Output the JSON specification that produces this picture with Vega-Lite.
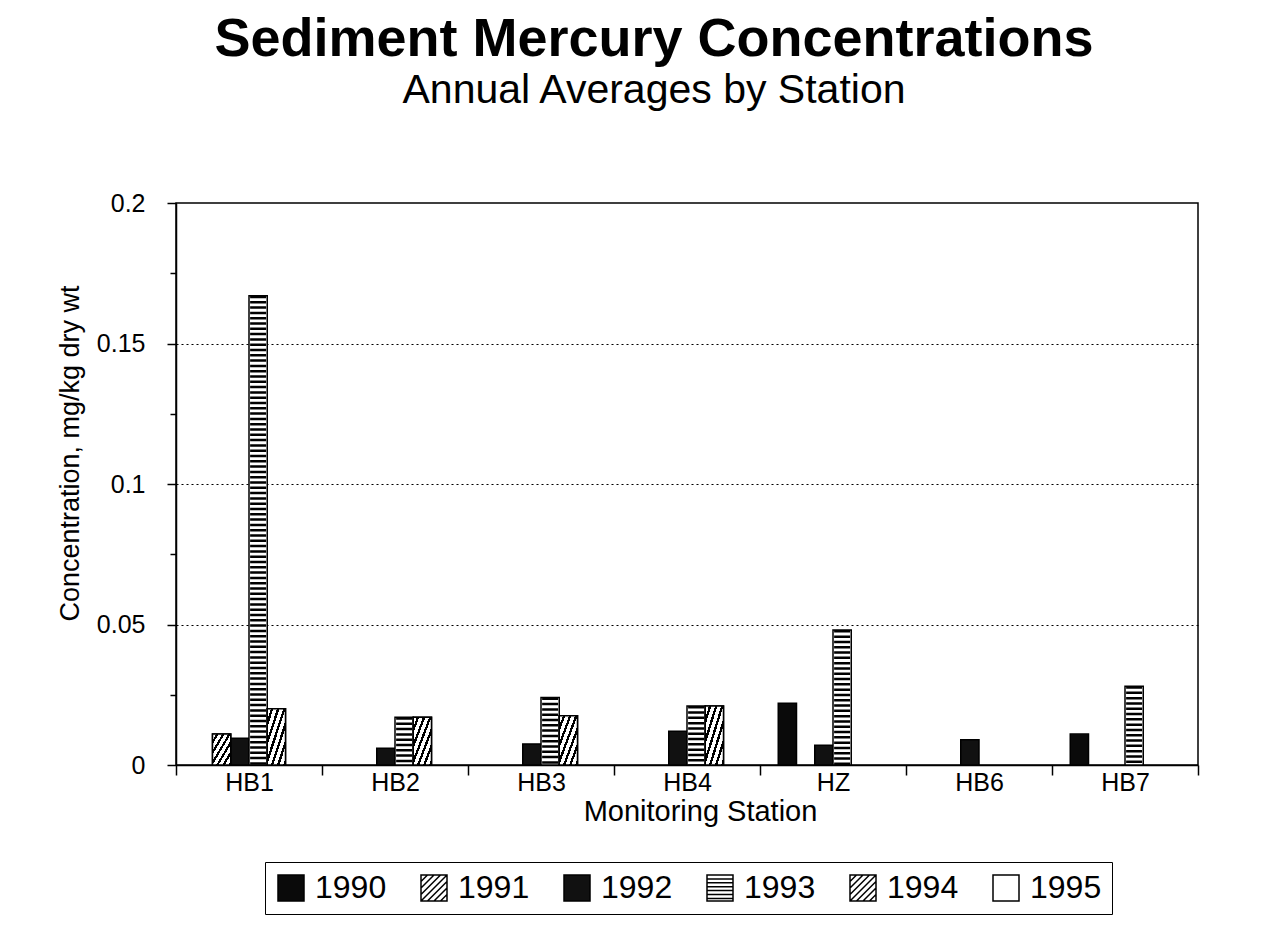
{
  "$schema": "https://vega.github.io/schema/vega-lite/v6.json",
  "autosize": {"type": "none"},
  "padding": {"left": 176, "top": 203, "right": 83, "bottom": 178},
  "width": 1022,
  "height": 562,
  "background": "white",
  "title": {
    "text": "Sediment Mercury Concentrations",
    "subtitle": "Annual Averages by Station",
    "anchor": "middle",
    "frame": "group",
    "dx": -33,
    "offset": 80,
    "font": "Liberation Sans",
    "fontSize": 54,
    "fontWeight": "bold",
    "color": "black",
    "subtitleFont": "Liberation Sans",
    "subtitleFontSize": 41,
    "subtitleColor": "black",
    "subtitlePadding": 4
  },
  "data": {
    "values": [
      {"station": "HB1", "year": "1991", "conc": 0.011},
      {"station": "HB1", "year": "1992", "conc": 0.0095},
      {"station": "HB1", "year": "1993", "conc": 0.167},
      {"station": "HB1", "year": "1994", "conc": 0.020},
      {"station": "HB2", "year": "1992", "conc": 0.006},
      {"station": "HB2", "year": "1993", "conc": 0.017},
      {"station": "HB2", "year": "1994", "conc": 0.017},
      {"station": "HB3", "year": "1992", "conc": 0.0075},
      {"station": "HB3", "year": "1993", "conc": 0.024},
      {"station": "HB3", "year": "1994", "conc": 0.0175},
      {"station": "HB4", "year": "1992", "conc": 0.012},
      {"station": "HB4", "year": "1993", "conc": 0.021},
      {"station": "HB4", "year": "1994", "conc": 0.021},
      {"station": "HZ", "year": "1990", "conc": 0.022},
      {"station": "HZ", "year": "1992", "conc": 0.007},
      {"station": "HZ", "year": "1993", "conc": 0.048},
      {"station": "HB6", "year": "1992", "conc": 0.009},
      {"station": "HB7", "year": "1990", "conc": 0.011},
      {"station": "HB7", "year": "1993", "conc": 0.028}
    ]
  },
  "encoding": {
    "x": {
      "field": "station",
      "type": "nominal",
      "scale": {"domain": ["HB1", "HB2", "HB3", "HB4", "HZ", "HB6", "HB7"], "paddingInner": 0, "paddingOuter": 0},
      "axis": {
        "title": "Monitoring Station",
        "labelAngle": 0,
        "tickBand": "extent",
        "tickSize": 10,
        "tickColor": "black",
        "tickWidth": 1.5,
        "domainColor": "black",
        "domainWidth": 1.5,
        "labelPadding": -5,
        "labelFont": "Liberation Sans",
        "labelFontSize": 25,
        "labelColor": "black",
        "titleFont": "Liberation Sans",
        "titleFontSize": 29,
        "titleFontWeight": "normal",
        "titleColor": "black",
        "titlePadding": 2,
        "titleX": 524
      }
    },
    "xOffset": {
      "field": "year",
      "type": "nominal",
      "scale": {"domain": ["1990", "1991", "1992", "1993", "1994", "1995"], "paddingInner": 0, "paddingOuter": 1}
    },
    "y": {
      "field": "conc",
      "type": "quantitative",
      "scale": {"domain": [0, 0.2], "nice": false},
      "axis": {
        "title": "Concentration, mg/kg dry wt",
        "values": [0, 0.025, 0.05, 0.075, 0.1, 0.125, 0.15, 0.175, 0.2],
        "labelExpr": "round(datum.value*1000) % 50 == 0 ? format(datum.value, '~g') : ''",
        "grid": true,
        "gridColor": "black",
        "gridDash": [2, 3],
        "gridWidth": 1.2,
        "gridOpacity": {"condition": {"test": "round(datum.value*1000) % 50 == 0 && datum.value > 0 && datum.value < 0.2", "value": 1}, "value": 0},
        "tickSize": {"condition": {"test": "round(datum.value*1000) % 50 == 0", "value": 9}, "value": 6},
        "tickColor": "black",
        "tickWidth": 1.5,
        "domainColor": "black",
        "domainWidth": 1.5,
        "labelPadding": 22,
        "labelFont": "Liberation Sans",
        "labelFontSize": 25,
        "labelColor": "black",
        "titleFont": "Liberation Sans",
        "titleFontSize": 27,
        "titleFontWeight": "normal",
        "titleColor": "black",
        "titlePadding": 12,
        "titleY": 250
      }
    }
  },
  "layer": [
    {
      "mark": {"type": "bar", "stroke": "black", "strokeWidth": 1.5, "fillOpacity": 1},
      "encoding": {
        "color": {
          "field": "year",
          "type": "nominal",
          "scale": {
            "domain": ["1990", "1991", "1992", "1993", "1994", "1995"],
            "range": ["#0a0a0a", "#ffffff", "#111111", "#ffffff", "#ffffff", "#ffffff"]
          },
          "legend": {
            "title": null,
            "orient": "none",
            "direction": "horizontal",
            "legendX": 89,
            "legendY": 659,
            "columns": 6,
            "symbolSize": 676,
            "labelFont": "Liberation Sans",
            "labelFontSize": 32,
            "labelColor": "black",
            "labelOffset": 8,
            "columnPadding": 31,
            "padding": 10,
            "strokeColor": "black",
            "encode": {
              "symbols": {
                "update": {
                  "stroke": {"value": "black"},
                  "strokeWidth": {"value": 1.5},
                  "opacity": {"value": 1}
                }
              }
            }
          }
        }
      }
    },
    {
      "mark": {"type": "point", "filled": true, "opacity": 0},
      "encoding": {
        "color": {"field": "year", "type": "nominal"},
        "shape": {
          "field": "year",
          "type": "nominal",
          "scale": {
            "domain": ["1990", "1991", "1992", "1993", "1994", "1995"],
            "range": [
              "M-1,-1H1V1H-1Z",
              "M-1,-1H1V1H-1Z M-1,-0.5L-0.5,-1 M-1,0L0,-1 M-1,0.5L0.5,-1 M-1,1L1,-1 M-0.5,1L1,-0.5 M0,1L1,0 M0.5,1L1,0.5",
              "M-1,-1H1V1H-1Z",
              "M-1,-1H1V1H-1Z M-1,-0.7H1 M-1,-0.4H1 M-1,-0.1H1 M-1,0.2H1 M-1,0.5H1 M-1,0.8H1",
              "M-1,-1H1V1H-1Z M-1,-0.5L-0.5,-1 M-1,0L0,-1 M-1,0.5L0.5,-1 M-1,1L1,-1 M-0.5,1L1,-0.5 M0,1L1,0 M0.5,1L1,0.5",
              "M-1,-1H1V1H-1Z"
            ]
          },
          "legend": {
            "title": null,
            "orient": "none",
            "direction": "horizontal",
            "legendX": 89,
            "legendY": 659,
            "columns": 6,
            "symbolSize": 676,
            "labelFont": "Liberation Sans",
            "labelFontSize": 32,
            "labelColor": "black",
            "labelOffset": 8,
            "columnPadding": 31,
            "padding": 10,
            "strokeColor": "black",
            "encode": {
              "symbols": {
                "update": {
                  "stroke": {"value": "black"},
                  "strokeWidth": {"value": 1.5},
                  "opacity": {"value": 1}
                }
              }
            }
          }
        }
      }
    },
    {
      "transform": [{"filter": "datum.year == '1991' || datum.year == '1994'"}],
      "mark": {"type": "bar", "stroke": "black", "strokeWidth": 1.5, "fillOpacity": 1,
        "fill": {"gradient": "linear", "x1": 0, "y1": 0, "x2": 1, "y2": 1, "stops": [
          {"offset": 0, "color": "white"}, {"offset": 0.1, "color": "white"}, {"offset": 0.1, "color": "black"}, {"offset": 0.1667, "color": "black"},
          {"offset": 0.1667, "color": "white"}, {"offset": 0.2667, "color": "white"}, {"offset": 0.2667, "color": "black"}, {"offset": 0.3333, "color": "black"},
          {"offset": 0.3333, "color": "white"}, {"offset": 0.4333, "color": "white"}, {"offset": 0.4333, "color": "black"}, {"offset": 0.5, "color": "black"},
          {"offset": 0.5, "color": "white"}, {"offset": 0.6, "color": "white"}, {"offset": 0.6, "color": "black"}, {"offset": 0.6667, "color": "black"},
          {"offset": 0.6667, "color": "white"}, {"offset": 0.7667, "color": "white"}, {"offset": 0.7667, "color": "black"}, {"offset": 0.8333, "color": "black"},
          {"offset": 0.8333, "color": "white"}, {"offset": 0.9333, "color": "white"}, {"offset": 0.9333, "color": "black"}, {"offset": 1, "color": "black"}
        ]}
      }
    },
    {
      "transform": [{"filter": "datum.year == '1993'"}],
      "mark": {"type": "rule", "color": "black", "strokeWidth": 16, "strokeDash": [2.5, 2.8], "strokeCap": "butt"},
      "encoding": {
        "y2": {"datum": 0}
      }
    }
  ],
  "config": {
    "view": {"stroke": "black", "strokeWidth": 1.5}
  }
}
